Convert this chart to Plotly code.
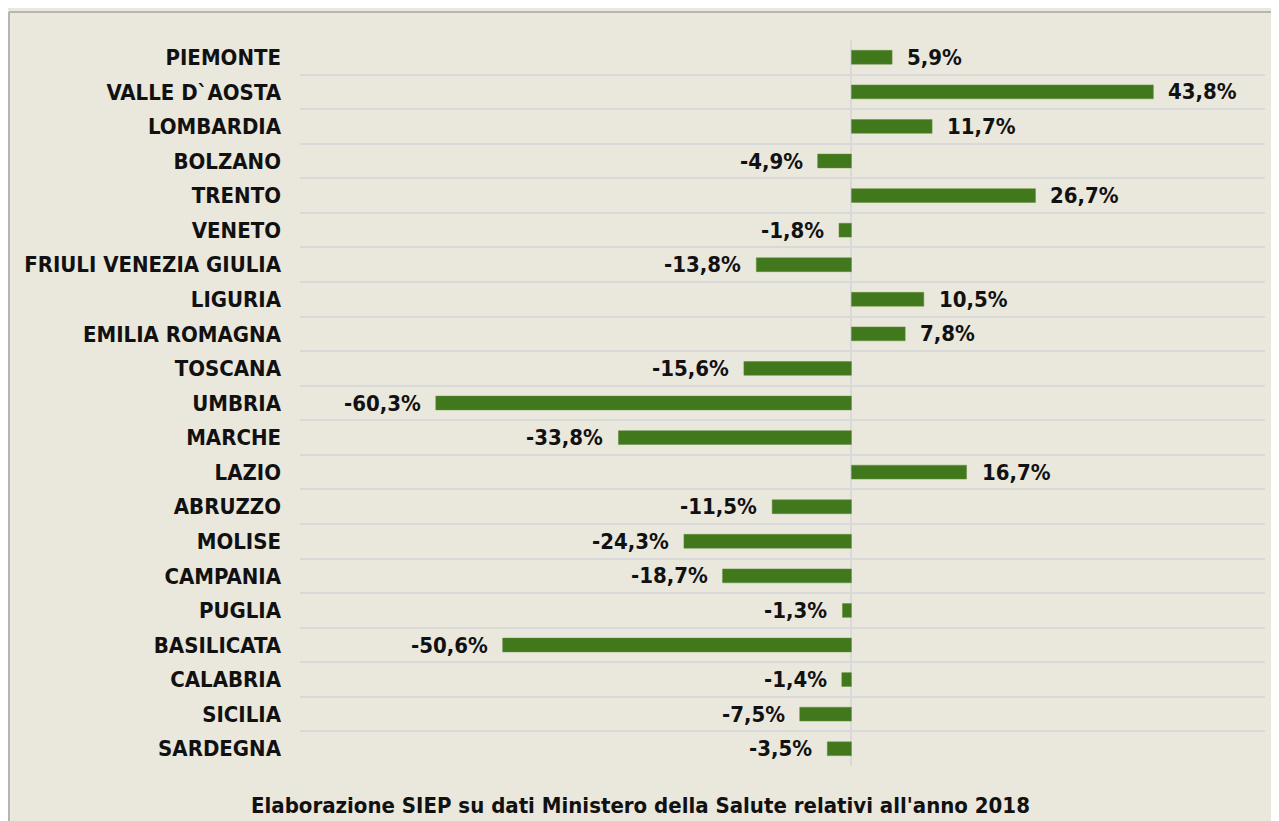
import plotly.graph_objects as go

regions = ["PIEMONTE", "VALLE D`AOSTA", "LOMBARDIA", "BOLZANO", "TRENTO", "VENETO",
           "FRIULI VENEZIA GIULIA", "LIGURIA", "EMILIA ROMAGNA", "TOSCANA", "UMBRIA",
           "MARCHE", "LAZIO", "ABRUZZO", "MOLISE", "CAMPANIA", "PUGLIA", "BASILICATA",
           "CALABRIA", "SICILIA", "SARDEGNA"]
values = [5.9, 43.8, 11.7, -4.9, 26.7, -1.8, -13.8, 10.5, 7.8, -15.6, -60.3,
          -33.8, 16.7, -11.5, -24.3, -18.7, -1.3, -50.6, -1.4, -7.5, -3.5]
caption = "Elaborazione SIEP su dati Ministero della Salute relativi all'anno 2018"

FONT = "DejaVu Sans Condensed, DejaVu Sans, sans-serif"
BG = "#EAE7DD"
# page body adds an 8px offset; figure sized to fit the remaining window
W, H = 1271, 813
ML, MR, MT, MB = 292, 14, 32, 55
pw, ph = W - ML - MR, H - MT - MB

fig = go.Figure(go.Bar(
    x=values, y=regions, orientation="h", width=0.4,
    marker=dict(color="#41781C", line=dict(color="#5E8F3C", width=0.5)),
    hoverinfo="skip",
))

for r, v in zip(regions, values):
    fig.add_annotation(
        x=v, y=r, xref="x", yref="y",
        text="<b>" + f"{v:.1f}".replace(".", ",") + "%</b>",
        showarrow=False,
        xanchor="left" if v >= 0 else "right",
        xshift=13 if v >= 0 else -13,
        font=dict(family=FONT, size=22, color="#111111"),
    )

fig.add_annotation(
    x=(632 - ML) / pw, y=(H - MB - 797) / ph, xref="paper", yref="paper",
    text="<b>" + caption + "</b>", showarrow=False,
    xanchor="center", yanchor="middle",
    font=dict(family=FONT, size=22, color="#111111"),
)

# frame lines (top strip and left border)
y_top = 1 + (MT - 4) / ph
x_left = (1 - ML) / pw
fig.add_shape(type="line", xref="paper", yref="paper",
              x0=x_left, x1=(W - ML) / pw + 0.05, y0=y_top, y1=y_top,
              line=dict(color="#B5B5B5", width=2))
fig.add_shape(type="line", xref="paper", yref="paper",
              x0=x_left, x1=x_left, y0=y_top, y1=-(MB + 10) / ph,
              line=dict(color="#B5B5B5", width=2))

fig.update_layout(
    width=W, height=H,
    margin=dict(l=ML, r=MR, t=MT, b=MB),
    paper_bgcolor=BG, plot_bgcolor=BG,
    showlegend=False,
    font=dict(family=FONT, size=22, color="#111111"),
    xaxis=dict(range=[-80, 60], showgrid=False, showticklabels=False,
               zeroline=True, zerolinecolor="#D9D9D9", zerolinewidth=2,
               fixedrange=True),
    yaxis=dict(autorange="reversed", type="category", tickson="boundaries",
               showgrid=True, gridcolor="#D9D9D9", gridwidth=2,
               ticklabelstandoff=18, ticks="",
               tickfont=dict(family=FONT, size=22, color="#111111", weight="bold"),
               fixedrange=True),
)

fig.write_html("out.html")
